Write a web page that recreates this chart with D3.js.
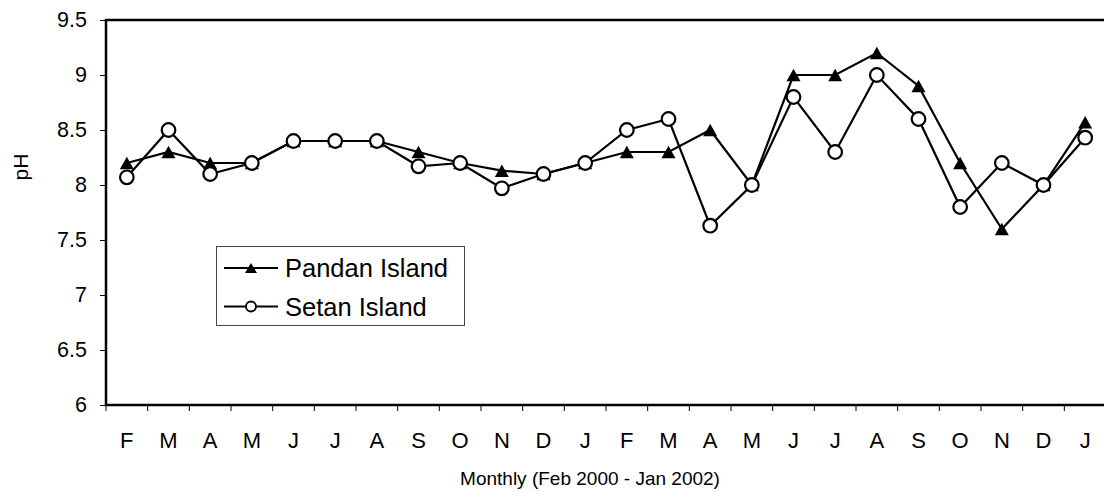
<!DOCTYPE html>
<html>
<head>
<meta charset="utf-8">
<script src="https://cdn.jsdelivr.net/npm/d3@7"></script>
<style>
  html, body { margin: 0; padding: 0; background: #fff; }
  svg { display: block; font-family: "Liberation Sans", Arial, sans-serif; }
</style>
</head>
<body>
<svg id="chart" width="1104" height="492"></svg>
<script>
const months = ["F","M","A","M","J","J","A","S","O","N","D","J","F","M","A","M","J","J","A","S","O","N","D","J"];
const pandan = [8.2,8.3,8.2,8.2,8.4,8.4,8.4,8.3,8.2,8.13,8.1,8.2,8.3,8.3,8.5,8.0,9.0,9.0,9.2,8.9,8.2,7.6,8.0,8.57];
const setan  = [8.07,8.5,8.1,8.2,8.4,8.4,8.4,8.17,8.2,7.97,8.1,8.2,8.5,8.6,7.63,8.0,8.8,8.3,9.0,8.6,7.8,8.2,8.0,8.43];
const yTicks = [6,6.5,7,7.5,8,8.5,9,9.5];
const seriesNames = ["Pandan Island","Setan Island"];
const xTitle = "Monthly (Feb 2000 - Jan 2002)";
const yTitle = "pH";

const svg = d3.select("#chart");
const L = 106, T = 20, R = 1106, B = 405;
const idx = months.map((d,i)=>i);
const x = d3.scaleBand().domain(idx).range([L, R]).padding(0);
const y = d3.scaleLinear().domain([6, 9.5]).range([B, T]);
const cx = i => x(i) + x.bandwidth()/2;

// plot frame
svg.append("rect").attr("x", L).attr("y", T).attr("width", R - L).attr("height", B - T)
  .attr("fill", "none").attr("stroke", "#000").attr("stroke-width", 2.5);

// y axis
const yAxis = d3.axisLeft(y).tickValues(yTicks).tickSize(6).tickPadding(13)
  .tickFormat(d => d3.format("")(d));
const gy = svg.append("g").attr("transform", `translate(${L},0)`).call(yAxis);
gy.select(".domain").remove();
gy.selectAll(".tick line").attr("stroke", "#000").attr("stroke-width", 1);
gy.selectAll(".tick text").attr("font-size", 21.5).attr("fill", "#000")
  .attr("font-family", "Liberation Sans, Arial, sans-serif");

// x axis: ticks between categories, labels centered
const gx = svg.append("g").attr("transform", `translate(0,${B})`);
const bounds = d3.range(months.length + 1).map(i => L + i * x.bandwidth());
gx.selectAll("line.tk").data(bounds).join("line").attr("class","tk")
  .attr("x1", d => d).attr("x2", d => d).attr("y1", 0).attr("y2", 6)
  .attr("stroke", "#000").attr("stroke-width", 1);
gx.selectAll("text").data(idx).join("text")
  .attr("x", d => cx(d)).attr("y", 43).attr("text-anchor", "middle")
  .attr("font-size", 22).attr("fill", "#000").text(d => months[d]);

// titles
svg.append("text").attr("x", 590).attr("y", 485).attr("text-anchor", "middle")
  .attr("font-size", 19).attr("fill", "#000").text(xTitle);
svg.append("text").attr("transform", "translate(28,167) rotate(-90)")
  .attr("text-anchor", "middle").attr("font-size", 21).attr("fill", "#000").text(yTitle);

const tri = (w, h) => `M0,${-h/2}L${w/2},${h/2}L${-w/2},${h/2}Z`;
const line = d3.line().x((d,i)=>cx(i)).y(d=>y(d));

// Pandan
svg.append("path").datum(pandan).attr("d", line).attr("fill","none")
  .attr("stroke","#000").attr("stroke-width", 2.2);
svg.selectAll("path.tri").data(pandan).join("path").attr("class","tri")
  .attr("d", tri(14, 12.5)).attr("transform", (d,i)=>`translate(${cx(i)},${y(d)})`)
  .attr("fill","#000");

// Setan
svg.append("path").datum(setan).attr("d", line).attr("fill","none")
  .attr("stroke","#000").attr("stroke-width", 2.2);
svg.selectAll("circle.cir").data(setan).join("circle").attr("class","cir")
  .attr("cx", (d,i)=>cx(i)).attr("cy", d=>y(d)).attr("r", 6.8)
  .attr("fill","#fff").attr("stroke","#000").attr("stroke-width", 2.2);

// legend
const lg = svg.append("g");
lg.append("rect").attr("x", 216.5).attr("y", 246.5).attr("width", 248).attr("height", 79)
  .attr("fill", "#fff").attr("stroke", "#444").attr("stroke-width", 1);
const rows = [268, 306.5];
rows.forEach((ry, k) => {
  lg.append("line").attr("x1", 224).attr("x2", 278).attr("y1", ry).attr("y2", ry)
    .attr("stroke", "#000").attr("stroke-width", 2);
  if (k === 0) {
    lg.append("path").attr("d", tri(12, 10)).attr("transform", `translate(251,${ry})`).attr("fill", "#000");
  } else {
    lg.append("circle").attr("cx", 251).attr("cy", ry).attr("r", 5)
      .attr("fill", "#fff").attr("stroke", "#000").attr("stroke-width", 1.8);
  }
  lg.append("text").attr("x", 285).attr("y", ry + 9).attr("font-size", 25.5)
    .attr("fill", "#000").text(seriesNames[k]);
});
</script>
</body>
</html>
